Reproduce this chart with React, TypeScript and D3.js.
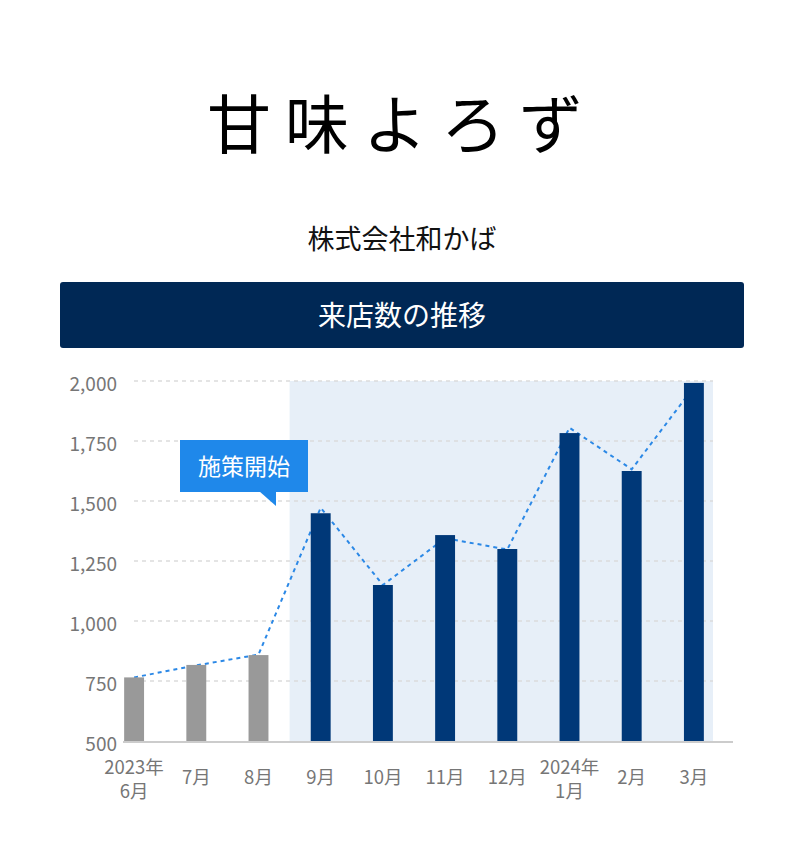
import React from "react";
import * as d3 from "d3";

const categories = ["2023年\n6月", "7月", "8月", "9月", "10月", "11月", "12月", "2024年\n1月", "2月", "3月"];
const barValues = [765, 817, 858, 1449, 1150, 1358, 1300, 1783, 1625, 1992];
const lineValues = [765, 815, 860, 1472, 1150, 1345, 1298, 1805, 1632, 1975];
const isAfter = [false, false, false, true, true, true, true, true, true, true];
const yTicks = [500, 750, 1000, 1250, 1500, 1750, 2000];

const FONT = "'Noto Sans CJK JP', 'Noto Sans', sans-serif";

export default function App() {
  const W = 804, H = 858;
  const x = d3.scaleBand<string>().domain(categories).range([103, 725]).paddingInner(0.68).paddingOuter(0.34);
  const y = d3.scaleLinear().domain([500, 2000]).range([741, 381]);
  const bw = x.bandwidth();
  const cx = (c: string) => (x(c) as number) + bw / 2;
  const line = d3.line<number>().x((_, i) => cx(categories[i])).y((d) => y(d));
  const shadeStart = categories[3];
  const shadeX = (x(shadeStart) as number) - ((x.step() - bw) / 2);

  return (
    <svg width={W} height={H} viewBox={`0 0 ${W} ${H}`} style={{ display: "block", position: "absolute", left: 0, top: 0 }} fontFamily={FONT}>
      <rect width={W} height={H} fill="#ffffff" />
      <text x={402} y={148} textAnchor="middle" fontSize={64} fontWeight={400} letterSpacing={14} fill="#000">甘味よろず</text>
      <text x={402} y={249} textAnchor="middle" fontSize={27} fill="#111">株式会社和かば</text>
      <rect x={60} y={282} width={684} height={66} rx={3} fill="#002855" />
      <text x={402} y={326} textAnchor="middle" fontSize={28} fill="#fff">来店数の推移</text>

      <rect x={shadeX} y={y(2000)} width={713 - shadeX} height={y(500) - y(2000)} fill="#e7eff8" />
      {yTicks.slice(1).map((t) => (
        <line key={t} x1={134} x2={713} y1={y(t)} y2={y(t)} stroke="#dcdcdc" strokeWidth={1.5} strokeDasharray="4 4" />
      ))}
      {yTicks.map((t) => (
        <text key={t} x={117} y={y(t) + 10} textAnchor="end" fontSize={19} fill="#767676">{d3.format(",")(t)}</text>
      ))}

      <path d={line(lineValues) || ""} fill="none" stroke="#2b88e6" strokeWidth={2} strokeDasharray="4 4" />

      {categories.map((c, i) => (
        <rect key={c} x={x(c)} y={y(barValues[i])} width={bw} height={y(500) - y(barValues[i])} fill={isAfter[i] ? "#003878" : "#999999"} />
      ))}
      <line x1={123} x2={733} y1={742} y2={742} stroke="#cccccc" strokeWidth={2} />

      {categories.map((c) => {
        const parts = c.split("\n");
        return (
          <text key={c} x={cx(c)} textAnchor="middle" fontSize={18.5} fill="#767676">
            {parts.length === 2 ? (
              <>
                <tspan x={cx(c)} y={774}>{parts[0]}</tspan>
                <tspan x={cx(c)} y={798}>{parts[1]}</tspan>
              </>
            ) : (
              <tspan x={cx(c)} y={784}>{parts[0]}</tspan>
            )}
          </text>
        );
      })}

      <rect x={180} y={440} width={128} height={52} fill="#1f88ea" />
      <path d="M259,491 L276,491 L276,506 Z" fill="#1f88ea" />
      <text x={244} y={475} textAnchor="middle" fontSize={23} fill="#fff">施策開始</text>
    </svg>
  );
}
